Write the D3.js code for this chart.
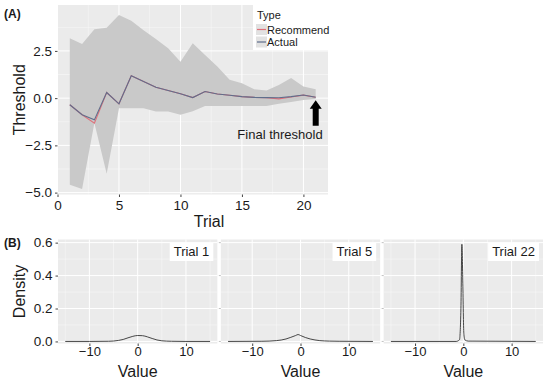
<!DOCTYPE html>
<html>
<head>
<meta charset="utf-8">
<script src="https://d3js.org/d3.v7.min.js"></script>
<style>
body { margin: 0; background: #fff; }
text { font-family: "Liberation Sans", Arial, sans-serif; fill: #1a1a1a; }
</style>
</head>
<body>
<script>
// panel A data
var trials = [1, 2, 3, 4, 5, 6, 7, 8, 9, 10, 11, 12, 13, 14, 15, 16, 17, 18, 19, 20, 21];
var recommend = [-0.35, -0.88, -1.32, 0.3, -0.3, 1.18, 0.88, 0.58, 0.4, 0.23, 0.03, 0.35, 0.22, 0.15, 0.08, 0.04, 0.02, -0.04, 0.06, 0.16, 0.05];
var actual = [-0.35, -0.88, -1.15, 0.3, -0.3, 1.18, 0.88, 0.58, 0.4, 0.23, 0.03, 0.35, 0.22, 0.15, 0.08, 0.04, 0.03, 0.02, 0.08, 0.17, 0.05];
var upper = [3.17, 2.87, 3.64, 3.73, 4.4, 4.1, 3.6, 3.13, 2.64, 1.93, 2.9, 2.29, 1.67, 0.97, 0.79, 0.47, 0.4, 0.7, 1.06, 0.61, 0.47];
var lower = [-4.58, -4.81, -1.32, -4.0, -0.53, -0.53, -0.53, -0.71, -0.71, -0.88, -0.7, -0.41, -0.41, -0.41, -0.41, -0.41, -0.41, -0.3, -0.2, -0.1, -0.05];
var xTicksA = [0, 5, 10, 15, 20];
var yTicksA = [-5, -2.5, 0, 2.5];

// panel B data: density curves
var facetLabels = ["Trial 1", "Trial 5", "Trial 22"];
var densX1 = [-15, -10, -6, -4, -3, -2, -1, 0, 1, 2, 3, 4, 5, 7, 10, 15];
var densY1 = [0, 0, 0.001, 0.006, 0.012, 0.022, 0.031, 0.036, 0.035, 0.028, 0.018, 0.009, 0.004, 0.001, 0, 0];
var densX5 = [-15, -8, -5, -3, -2, -1, -0.5, 0, 1, 2, 3, 4, 6, 8, 15];
var densY5 = [0, 0.001, 0.005, 0.015, 0.025, 0.036, 0.042, 0.036, 0.024, 0.015, 0.009, 0.005, 0.002, 0.001, 0];
var densX22 = [-15, -1.5, -0.8, -0.5, -0.3, -0.1, 0.1, 0.3, 1, 15];
var densY22 = [0, 0, 0.01, 0.2, 0.59, 0.35, 0.05, 0.01, 0.002, 0];
var xTicksB = [-10, 0, 10];
var yTicksB = [0, 0.2, 0.4, 0.6];

var W = 550, H = 381;
var svg = d3.select("body").append("svg").attr("width", W).attr("height", H);

var bg = "#EBEBEB", ribbon = "#C9C9C9";
var colRec = "#E0707A", colAct = "#5F6E8C";

function styleAxis(a, size) {
  a.select(".domain").remove();
  a.selectAll(".tick line").attr("stroke", "#444");
  a.selectAll("text").style("font-size", size).attr("fill", "#1a1a1a");
}

// ---------- panel A ----------
var A = { l: 57.5, r: 328, t: 5, b: 194.5 };
var xA = d3.scaleLinear().domain([0, 22]).range([A.l, A.r]);
var yA = d3.scaleLinear().domain([-5.1, 4.93]).range([A.b, A.t]);

var gA = svg.append("g");
gA.append("rect").attr("x", A.l).attr("y", A.t).attr("width", A.r - A.l).attr("height", A.b - A.t).attr("fill", bg);

// minor then major grid
[2.5, 7.5, 12.5, 17.5].forEach(function(v) {
  gA.append("line").attr("x1", xA(v)).attr("x2", xA(v)).attr("y1", A.t).attr("y2", A.b).attr("stroke", "#fff").attr("stroke-width", 0.5).attr("opacity", 0.8);
});
[-3.75, -1.25, 1.25, 3.75].forEach(function(v) {
  gA.append("line").attr("y1", yA(v)).attr("y2", yA(v)).attr("x1", A.l).attr("x2", A.r).attr("stroke", "#fff").attr("stroke-width", 0.5).attr("opacity", 0.8);
});
xTicksA.forEach(function(v) {
  gA.append("line").attr("x1", xA(v)).attr("x2", xA(v)).attr("y1", A.t).attr("y2", A.b).attr("stroke", "#fff").attr("stroke-width", 1);
});
yTicksA.forEach(function(v) {
  gA.append("line").attr("y1", yA(v)).attr("y2", yA(v)).attr("x1", A.l).attr("x2", A.r).attr("stroke", "#fff").attr("stroke-width", 1);
});

var rows = trials.map(function(t, i) {
  return { t: t, rec: recommend[i], act: actual[i], hi: upper[i], lo: lower[i] };
});

gA.append("path").datum(rows)
  .attr("d", d3.area().x(function(d) { return xA(d.t); }).y0(function(d) { return yA(d.lo); }).y1(function(d) { return yA(d.hi); }))
  .attr("fill", ribbon);

gA.append("path").datum(rows)
  .attr("d", d3.line().x(function(d) { return xA(d.t); }).y(function(d) { return yA(d.rec); }))
  .attr("fill", "none").attr("stroke", colRec).attr("stroke-width", 1.1);
gA.append("path").datum(rows)
  .attr("d", d3.line().x(function(d) { return xA(d.t); }).y(function(d) { return yA(d.act); }))
  .attr("fill", "none").attr("stroke", colAct).attr("stroke-width", 1.1);

// axes
var axA = gA.append("g").attr("transform", "translate(0," + A.b + ")")
  .call(d3.axisBottom(xA).tickValues(xTicksA).tickSize(2.5).tickPadding(3));
var ayA = gA.append("g").attr("transform", "translate(" + A.l + ",0)")
  .call(d3.axisLeft(yA).tickValues(yTicksA).tickFormat(d3.format(".1f")).tickSize(2.5).tickPadding(3));
styleAxis(axA, "13.5px");
styleAxis(ayA, "13.5px");
ayA.selectAll("text").text(function(d) { return d3.format(".1f")(d).replace("-", "\u2212"); });

gA.append("text").attr("x", 209).attr("y", 227).attr("text-anchor", "middle").style("font-size", "16px").text("Trial");
gA.append("text").attr("transform", "translate(25," + ((A.t + A.b) / 2) + ") rotate(-90)")
  .attr("text-anchor", "middle").style("font-size", "16px").text("Threshold");
gA.append("text").attr("x", 4).attr("y", 18).style("font-size", "12px").style("font-weight", "bold").text("(A)");

// legend
var lg = gA.append("g").attr("transform", "translate(253,5)");
lg.append("rect").attr("width", 75).attr("height", 45).attr("fill", "#fff");
lg.append("text").attr("x", 4).attr("y", 14).style("font-size", "11px").text("Type");
[["Recommend", colRec], ["Actual", colAct]].forEach(function(e, i) {
  var yy = 24.5 + i * 12.5;
  lg.append("rect").attr("x", 3).attr("y", yy - 5.5).attr("width", 11).attr("height", 11).attr("fill", "#E2E2E2");
  lg.append("line").attr("x1", 4).attr("x2", 13).attr("y1", yy).attr("y2", yy).attr("stroke", e[1]).attr("stroke-width", 1.2);
  lg.append("text").attr("x", 14).attr("y", yy + 4).style("font-size", "11px").text(e[0]);
});

// arrow pointing at the final threshold
var last = rows[rows.length - 1];
var ax = xA(last.t), ay = yA(last.act) + 3;
gA.append("path")
  .attr("d", "M" + ax + "," + ay + " l-6,8.5 l3,0 l0,17 l6,0 l0,-17 l3,0 z")
  .attr("fill", "#000");
gA.append("text").attr("x", 280).attr("y", 138.5).attr("text-anchor", "middle").style("font-size", "13px").text("Final threshold");

// ---------- panel B ----------
var B = { l: 58, r: 543, t: 239.5, b: 343.5, gap: 3.5 };
var fw = (B.r - B.l - 2 * B.gap) / 3;
var yB = d3.scaleLinear().domain([-0.0125, 0.619]).range([B.b, B.t]);
var dens = [[densX1, densY1], [densX5, densY5], [densX22, densY22]];

svg.append("text").attr("x", 4).attr("y", 247).style("font-size", "12px").style("font-weight", "bold").text("(B)");
svg.append("text").attr("transform", "translate(25," + ((B.t + B.b) / 2) + ") rotate(-90)")
  .attr("text-anchor", "middle").style("font-size", "16px").text("Density");

facetLabels.forEach(function(lab, k) {
  var x0 = B.l + k * (fw + B.gap);
  var xB = d3.scaleLinear().domain([-16.5, 16.5]).range([x0, x0 + fw]);
  var g = svg.append("g");
  g.append("rect").attr("x", x0).attr("y", B.t).attr("width", fw).attr("height", B.b - B.t).attr("fill", bg);
  [-15, -5, 5, 15].forEach(function(v) {
    g.append("line").attr("x1", xB(v)).attr("x2", xB(v)).attr("y1", B.t).attr("y2", B.b).attr("stroke", "#fff").attr("stroke-width", 0.5).attr("opacity", 0.8);
  });
  [0.1, 0.3, 0.5].forEach(function(v) {
    g.append("line").attr("y1", yB(v)).attr("y2", yB(v)).attr("x1", x0).attr("x2", x0 + fw).attr("stroke", "#fff").attr("stroke-width", 0.5).attr("opacity", 0.8);
  });
  xTicksB.forEach(function(v) {
    g.append("line").attr("x1", xB(v)).attr("x2", xB(v)).attr("y1", B.t).attr("y2", B.b).attr("stroke", "#fff").attr("stroke-width", 1);
  });
  yTicksB.forEach(function(v) {
    g.append("line").attr("y1", yB(v)).attr("y2", yB(v)).attr("x1", x0).attr("x2", x0 + fw).attr("stroke", "#fff").attr("stroke-width", 1);
  });

  var pts = dens[k][0].map(function(x, i) { return [x, dens[k][1][i]]; });
  g.append("path").datum(pts)
    .attr("d", d3.line().x(function(d) { return xB(d[0]); }).y(function(d) { return yB(d[1]); }).curve(d3.curveMonotoneX))
    .attr("fill", "none").attr("stroke", "#333").attr("stroke-width", 0.9);

  var axb = g.append("g").attr("transform", "translate(0," + B.b + ")")
    .call(d3.axisBottom(xB).tickValues(xTicksB).tickSize(2.5).tickPadding(1));
  styleAxis(axb, "13px");
  axb.selectAll("text").text(function(d) { return String(d).replace("-", "\u2212"); });

  if (k === 0) {
    var ayb = g.append("g").attr("transform", "translate(" + x0 + ",0)")
      .call(d3.axisLeft(yB).tickValues(yTicksB).tickFormat(d3.format(".1f")).tickSize(2.5).tickPadding(3));
    styleAxis(ayb, "13.5px");
  } else {
    yTicksB.forEach(function(v) {
      g.append("line").attr("x1", x0 - 2).attr("x2", x0).attr("y1", yB(v)).attr("y2", yB(v)).attr("stroke", "#999").attr("stroke-width", 0.6);
    });
  }

  // facet label box, top-right
  var box = g.append("rect").attr("fill", "#fff");
  var t = g.append("text").attr("x", x0 + fw - 8).attr("y", B.t + 16.5).attr("text-anchor", "end").style("font-size", "13px").text(lab);
  var bb = t.node().getBBox();
  box.attr("x", bb.x - 4).attr("y", B.t + 3.5).attr("width", bb.width + 8).attr("height", 18);

  g.append("text").attr("x", x0 + fw / 2).attr("y", 377).attr("text-anchor", "middle").style("font-size", "16px").text("Value");
});
</script>
</body>
</html>
